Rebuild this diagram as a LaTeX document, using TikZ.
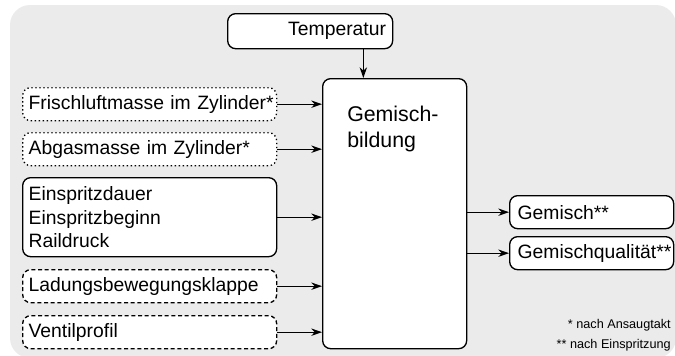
\documentclass[tikz,border=0pt]{standalone}
\usepackage{fontspec}
\setmainfont{Liberation Sans}
\usetikzlibrary{arrows.meta,positioning,calc}
\definecolor{bggray}{HTML}{EBEBEB}
\tikzset{
  post/.style    = {-{Stealth[length=8pt,width=5.5pt,inset=2.5pt]}, line width=1pt},
  box/.style     = {draw, fill=white, rounded corners=6pt, line width=1pt,
                    anchor=north west, inner xsep=4.5pt, inner ysep=0pt,
                    font=\fontsize{14.5}{17.6}\selectfont},
  inbox/.style   = {box, text width=181.5pt, align=left, minimum height=24.75pt},
  outbox/.style  = {box, text width=111pt, inner xsep=6pt, align=left, minimum height=24.75pt},
  fresh/.style   = {inbox, dotted},
  valve/.style   = {inbox, dash pattern=on 3pt off 2pt},
  block/.style   = {draw, fill=white, rounded corners=6pt, line width=1pt,
                    anchor=north west, minimum width=108pt, minimum height=202.5pt},
  note/.style    = {inner sep=0pt, align=right, font=\fontsize{9.5}{15}\selectfont}
}

\begin{document}
\hyphenpenalty=10000
\begin{tikzpicture}[x=0.75pt, y=-0.75pt]
  \useasboundingbox (0,0) rectangle (675,355);
  \fill[bggray, rounded corners=15pt] (10,5) rectangle (676,358);

  % Gemischbildung
  \node[block] (gb) at (322,78) {};
  \node[anchor=north west, inner sep=0pt, align=left,
        font=\fontsize{16}{19.5}\selectfont] (gbt) at (347,106) {Gemisch-\\bildung};

  % Temperatur
  \node[box, text width=113.75pt, inner xsep=5pt, align=right,
        minimum height=26.25pt] (tp) at (227,13) {Temperatur};
  \coordinate (tin) at ($(tp.south east)+(-30,0)$);
  \draw[post] (tin) -- (tin |- gb.north);

  % Eingaenge
  \node[fresh] (fl) at (22,87)  {\mbox{Frischluftmasse im Zylinder*}};
  \node[fresh] (ag) at (22,132) {Abgasmasse im Zylinder*};
  \node[inbox, minimum height=59.25pt] (ei) at (22,177)
        {Einspritzdauer\\Einspritzbeginn\\Raildruck};
  \node[valve] (lk) at (22,269) {Ladungsbewegungsklappe};
  \node[valve] (vp) at (22,315) {Ventilprofil};
  \foreach \n in {fl,ag,ei,lk,vp}
    \draw[post] (\n.east) -- (\n.east -| gb.west);

  % Ausgaenge
  \node[outbox] (gm) at (509,195) {\mbox{Gemisch**}};
  \node[outbox] (gq) at (509,236) {\mbox{Gemischqualität**}};
  \foreach \n in {gm,gq}
    \draw[post] (\n.west -| gb.east) -- (\n.west);

  \node[note, anchor=north east] (fn) at (671,319)
        {* nach Ansaugtakt\\** nach Einspritzung};
\end{tikzpicture}
\end{document}
